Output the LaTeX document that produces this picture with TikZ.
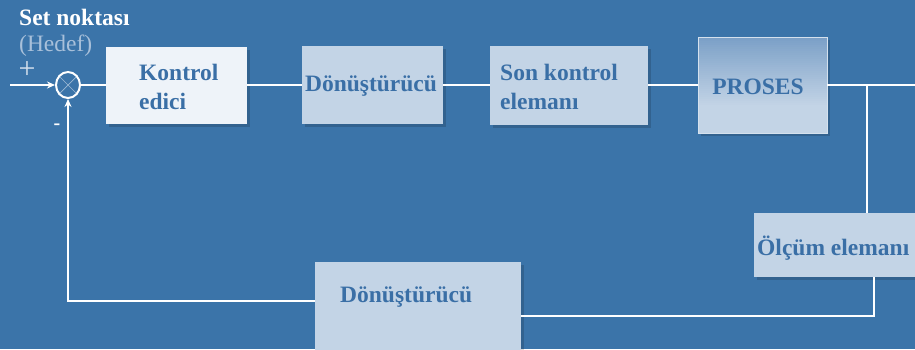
\documentclass[tikz,border=0pt]{standalone}
\usepackage{fontspec}
\setmainfont{Liberation Serif}
\usetikzlibrary{shadows,arrows.meta,shapes.geometric}
\definecolor{bg}{HTML}{3B74A9}
\definecolor{boxfill}{HTML}{C3D4E6}
\definecolor{boxlight}{HTML}{EEF3F9}
\definecolor{txt}{HTML}{3A6FA6}
\definecolor{hedef}{HTML}{A8C0DA}
\definecolor{protop}{HTML}{7BA0C7}
\begin{document}
\begin{tikzpicture}[x=1pt,y=-1pt,
  box/.style={rectangle, draw=none, fill=boxfill, inner sep=0pt,
    drop shadow={shadow xshift=3pt, shadow yshift=-3pt, opacity=0.15, fill=black}},
  gradbox/.style={rectangle, inner sep=0pt, draw=boxfill!70!white, line width=0.8pt},
  lbl/.style={inner sep=0pt, font=\fontsize{23.5}{29}\selectfont\bfseries, text=txt, align=left},
  wire/.style={draw=white, line width=2.4pt},
  arr/.style={wire, -{Stealth[length=8pt,width=7pt]}}]
\fill[bg] (0,0) rectangle (915,349);
\useasboundingbox (0,0) rectangle (915,349);

% boxes
\node[box, fill=boxlight, minimum width=141pt, minimum height=77pt] (kon) at (176.5,85) {};
\node[box, minimum width=141pt, minimum height=78pt] (dn1) at (372.5,85) {};
\node[box, minimum width=158pt, minimum height=79pt] (son) at (569,85) {};
\fill[black, opacity=0.15] (701,40) rectangle (830,136);
\foreach \i in {0,...,47}{
  \pgfmathsetmacro{\p}{max(0,100-\i*100/34)}
  \fill[protop!\p!boxfill] (698,{37+2*\i}) rectangle (827,{39.4+2*\i});
}
\node[gradbox, minimum width=129pt, minimum height=96pt] (pro) at (762.5,85) {};
\node[box, minimum width=170pt, minimum height=64pt] (olc) at (839,245) {};
\node[box, minimum width=206pt, minimum height=100pt] (dn2) at (418,312) {};

% labels
\node[lbl, anchor=west] (konT) at (139,86.5) {Kontrol\\edici};
\node[lbl] (dn1T) at (371,86) {Dönüştürücü};
\node[lbl, anchor=west] (sonT) at (500,86.5) {Son kontrol\\elemanı};
\node[lbl] (proT) at (758,87) {PROSES};
\node[lbl, anchor=west] (olcT) at (757,248) {Ölçüm elemanı};
\node[lbl, anchor=west] (dn2T) at (340,297) {Dönüştürücü};

\node[lbl, text=white, anchor=west] (setT) at (19,17) {Set noktası};
\node[lbl, text=hedef, font=\fontsize{23.5}{29}\selectfont, anchor=west] (hedT) at (19,46) {(Hedef)};
\node[lbl, text=hedef!50!white, font=\fontsize{30}{32}\selectfont] (plus) at (27,70) {+};
\node[lbl, text=white, font=\fontsize{20}{24}\selectfont\bfseries] (minus) at (57,127) {-};

% summing junction
\node[draw=white, line width=2pt, ellipse, minimum width=24pt, minimum height=26pt, inner sep=0pt] (sum) at (68,85) {};
\draw[white, line width=0.7pt, opacity=0.5] (sum.45) -- (sum.225) (sum.135) -- (sum.315);

% connectors
\coordinate (inL) at (10,85);
\coordinate (outR) at (915,85);
\coordinate (br) at (867,85);
\coordinate (c1) at (874,316);
\coordinate (c2) at (68,301);
\draw[arr] (inL) -- (sum.west);
\draw[wire] (sum) -- (kon) -- (dn1) -- (son) -- (pro) -- (outR);
\draw[wire] (br) -- (br |- olc.north);
\draw[wire] (c1 |- olc.south) -- (c1) -- (c1 -| dn2.east);
\draw[arr] (c2 -| dn2.west) -- (c2) -- (sum.south);
\end{tikzpicture}
\end{document}
